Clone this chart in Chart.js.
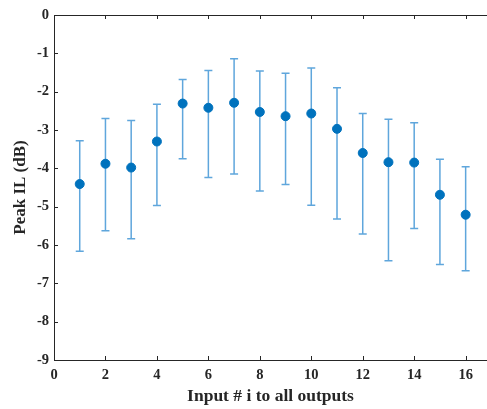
<!DOCTYPE html>
<html>
<head>
<meta charset="utf-8">
<script src="https://cdn.jsdelivr.net/npm/chart.js@4/dist/chart.umd.min.js"></script>
<style>
  html, body { margin: 0; padding: 0; background: #fff; }
  #wrap { width: 487px; height: 409px; position: relative; }
</style>
</head>
<body>
<div id="wrap"><canvas id="grafica"></canvas></div>
<script>
// datos
const entradas = [1, 2, 3, 4, 5, 6, 7, 8, 9, 10, 11, 12, 13, 14, 15, 16];
const ilMedia = [-4.41, -3.88, -3.98, -3.30, -2.31, -2.42, -2.29, -2.53, -2.64, -2.57, -2.97, -3.60, -3.84, -3.85, -4.69, -5.21];
const ilMax = [-3.28, -2.70, -2.75, -2.33, -1.68, -1.45, -1.14, -1.46, -1.52, -1.38, -1.90, -2.57, -2.72, -2.81, -3.76, -3.96];
const ilMin = [-6.16, -5.63, -5.84, -4.97, -3.75, -4.24, -4.15, -4.59, -4.42, -4.96, -5.32, -5.71, -6.41, -5.57, -6.51, -6.67];
const ticksX = [0, 2, 4, 6, 8, 10, 12, 14, 16];
const ticksY = [0, -1, -2, -3, -4, -5, -6, -7, -8, -9];

const AZUL = '#0072BD';
const AZUL_BARRA = '#5fa6dc';
const fuente = { family: '"Liberation Serif", "Times New Roman", serif', weight: 'bold' };

// barras de error con las escalas del grafico
const barrasError = {
  id: 'barrasError',
  beforeDatasetsDraw(chart){
    const { ctx, scales: { x, y } } = chart;
    ctx.save();
    ctx.strokeStyle = AZUL_BARRA;
    ctx.lineWidth = 1.5;
    entradas.forEach((e, i) => {
      const px = x.getPixelForValue(e);
      const pArriba = y.getPixelForValue(ilMax[i]);
      const pAbajo = y.getPixelForValue(ilMin[i]);
      ctx.beginPath();
      ctx.moveTo(px, pArriba); ctx.lineTo(px, pAbajo);
      ctx.moveTo(px - 4, pArriba); ctx.lineTo(px + 4, pArriba);
      ctx.moveTo(px - 4, pAbajo); ctx.lineTo(px + 4, pAbajo);
      ctx.stroke();
    });
    ctx.restore();
  },
  afterDraw(chart){
    // caja y marcas hacia adentro, estilo matlab
    const { ctx, chartArea: a, scales: { x, y } } = chart;
    ctx.save();
    ctx.strokeStyle = '#262626';
    ctx.lineWidth = 1;
    ctx.beginPath();
    ctx.moveTo(a.left + 0.5, a.bottom + 0.5);
    ctx.lineTo(a.left + 0.5, a.top + 0.5);
    ctx.lineTo(a.right, a.top + 0.5);
    ctx.moveTo(a.left, a.bottom + 0.5);
    ctx.lineTo(a.right, a.bottom + 0.5);
    ticksX.forEach(v => {
      const px = Math.round(x.getPixelForValue(v)) + 0.5;
      ctx.moveTo(px, a.bottom); ctx.lineTo(px, a.bottom - 4);
      ctx.moveTo(px, a.top); ctx.lineTo(px, a.top + 4);
    });
    ticksY.forEach(v => {
      const py = Math.round(y.getPixelForValue(v)) + 0.5;
      ctx.moveTo(a.left, py); ctx.lineTo(a.left + 4, py);
    });
    ctx.stroke();
    ctx.restore();
  }
};

new Chart(document.getElementById('grafica'), {
  type: 'scatter',
  data: {
    datasets: [{
      label: 'Peak IL',
      data: entradas.map((e, i) => ({ x: e, y: ilMedia[i] })),
      backgroundColor: AZUL,
      borderColor: AZUL,
      pointRadius: 4.5,
      pointHoverRadius: 4.5
    }]
  },
  options: {
    responsive: true,
    maintainAspectRatio: false,
    animation: false,
    layout: { autoPadding: false, padding: { top: 15, right: 0, left: 0, bottom: 0 } },
    plugins: { legend: { display: false }, tooltip: { enabled: false } },
    scales: {
      x: {
        type: 'linear',
        min: 0,
        max: 16.83,
        afterBuildTicks: s => { s.ticks = ticksX.map(v => ({ value: v })); },
        afterFit: s => { s.height = 49; s.paddingLeft = 0; s.paddingRight = 0; },
        grid: { display: false, drawTicks: false },
        border: { display: false },
        ticks: { color: '#262626', font: { ...fuente, size: 14.5 }, padding: 7, maxRotation: 0 },
        title: { display: true, text: 'Input # i to all outputs', color: '#262626',
                 font: { ...fuente, size: 17.5 }, padding: { top: 0, bottom: 2 } }
      },
      y: {
        type: 'linear',
        min: -9,
        max: 0,
        afterBuildTicks: s => { s.ticks = ticksY.map(v => ({ value: v })); },
        afterFit: s => { s.width = 54; s.paddingTop = 0; s.paddingBottom = 0; },
        grid: { display: false, drawTicks: false },
        border: { display: false },
        ticks: { color: '#262626', font: { ...fuente, size: 14.5 }, padding: 5 },
        title: { display: true, text: 'Peak IL (dB)', color: '#262626',
                 font: { ...fuente, size: 17 }, padding: { top: 10, bottom: 0 } }
      }
    }
  },
  plugins: [barrasError]
});
</script>
</body>
</html>
